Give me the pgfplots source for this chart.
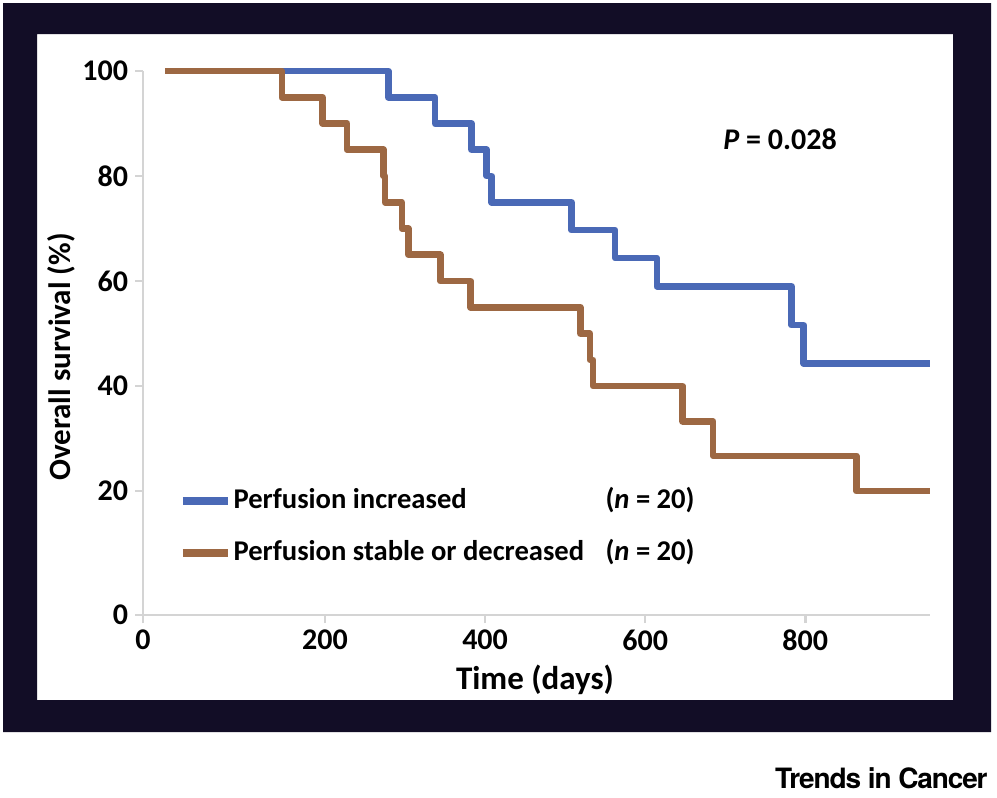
\documentclass[border=0pt]{standalone}
\usepackage{pgfplots}
\pgfplotsset{compat=1.18}
\usepackage{fontspec}
\setmainfont{Carlito}
\newfontfamily\heros[LetterSpace=-4]{TeX Gyre Heros}
\definecolor{framecol}{RGB}{18,13,38}
\definecolor{kmblue}{RGB}{74,105,182}
\definecolor{kmbrown}{RGB}{157,104,67}
\definecolor{axgray}{RGB}{212,212,212}
\begin{document}
\begin{tikzpicture}
\begin{scope}[x=0.5bp,y=-0.5bp]
\useasboundingbox (0,0) rectangle (997,798);
\fill[white] (0,0) rectangle (997,798);
\fill[framecol,even odd rule] (3,3) rectangle (991,732) (37,34) rectangle (953,700);
\node[anchor=base west,font=\fontsize{15bp}{18bp}\selectfont\bfseries,inner sep=0] at (723,149) {\textit{P} = 0.028};
\node[anchor=base,font=\fontsize{16.5bp}{19bp}\selectfont\bfseries,inner sep=0] at (535,689) {Time (days)};
\node[anchor=base,rotate=90,font=\fontsize{15.5bp}{18bp}\selectfont\bfseries,inner sep=0] at (70,357) {Overall survival (\%)};
\node[anchor=base east,font=\fontsize{14bp}{16bp}\selectfont\heros\bfseries,inner sep=0] at (988,788) {Trends in Cancer};
\end{scope}
\begin{axis}[
  at={(71.5bp,-307.5bp)}, anchor=south west,
  scale only axis, width=393.5bp, height=272bp,
  xmin=-27.5, xmax=956, ymin=-3.6, ymax=100,
  axis x line=bottom, axis y line=left,
  axis line style={-, draw=axgray, line width=1.35bp},
  tick style={draw=axgray, line width=1.35bp},
  tick align=outside, major tick length=4bp,
  xtick={-27.5,200,400,600,800}, xticklabels={0,200,400,600,800},
  ytick={-3.6,20,40,60,80,100}, yticklabels={0,20,40,60,80,100},
  /pgf/number format/assume math mode=true,
  ticklabel style={font=\fontsize{15bp}{17bp}\selectfont\bfseries},
  clip=false,
  legend style={at={(0.0457,0.239)}, anchor=north west, draw=none, fill=none,
    inner sep=0pt, row sep=10.5bp,
    font=\fontsize{14.3bp}{17bp}\selectfont\bfseries,
    nodes={text height=10.5bp, text depth=3bp, inner sep=1bp},
    /tikz/every even column/.append style={column sep=1bp}},
  legend cell align=left,
  legend image code/.code={\draw[#1, line width=3.6bp, line cap=butt] (0bp,0bp) -- (22.5bp,0bp);},
]
\addplot[const plot, kmblue, line width=3.3bp, line join=round] coordinates {
(0,100) (279,95) (337.5,90) (383,85) (402,80) (408,75) (508,69.7) (562.5,64.4)
(614.6,59.0) (783,51.6) (798,44.3) (956,44.3)};
\addlegendentry{\makebox[186bp][l]{Perfusion increased}(\textit{n} = 20)}
\addplot[const plot, kmbrown, line width=3.3bp, line join=round] coordinates {
(0,100) (146,95) (197,90) (227.5,85) (273,80) (275,75) (296,70) (304,65)
(344,60) (382,55) (519,50) (531,45) (535,40) (647,33.3) (685,26.7) (864,20) (956,20)};
\addlegendentry{\makebox[186bp][l]{Perfusion stable or decreased}(\textit{n} = 20)}
\end{axis}
\end{tikzpicture}
\end{document}
